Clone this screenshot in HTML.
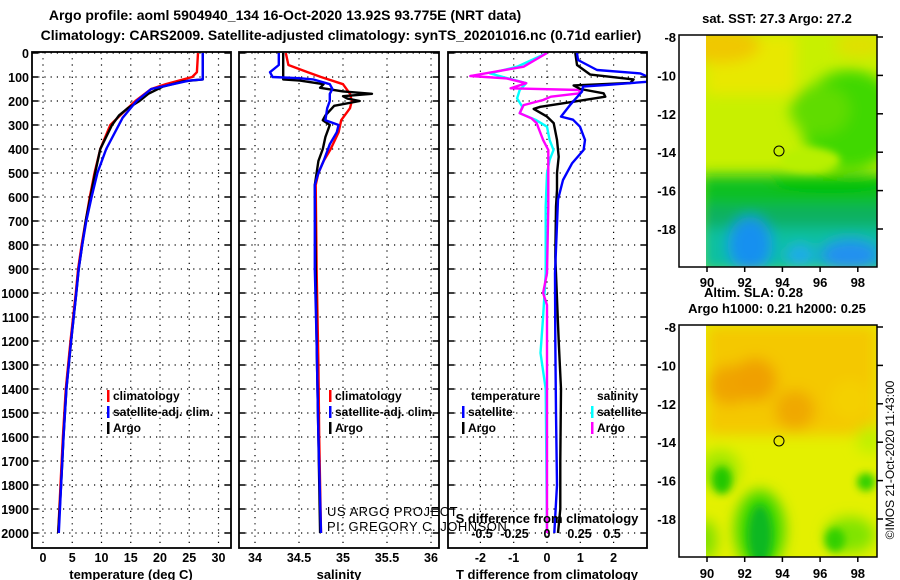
<!DOCTYPE html>
<html><head><meta charset="utf-8">
<style>
html,body{margin:0;padding:0;background:#fff;}
svg{display:block;font-family:"Liberation Sans",sans-serif;}
.b{font-weight:bold;}
</style></head>
<body>
<svg id="fig" width="900" height="580" viewBox="0 0 900 580">
<defs>
<clipPath id="c1"><rect x="32" y="52" width="199" height="496"/></clipPath>
<clipPath id="c2"><rect x="239" y="52" width="200" height="496"/></clipPath>
<clipPath id="c3"><rect x="448" y="52" width="199" height="496"/></clipPath>
<clipPath id="cm1"><rect x="706" y="35" width="171" height="232"/></clipPath>
<clipPath id="cm2"><rect x="706" y="325" width="171" height="232"/></clipPath>
<filter id="bl" x="-50%" y="-50%" width="200%" height="200%"><feGaussianBlur stdDeviation="7"/></filter>
<filter id="bl2" x="-50%" y="-50%" width="200%" height="200%"><feGaussianBlur stdDeviation="4"/></filter>
</defs>
<text class="b" x="285" y="20" font-size="14" text-anchor="middle">Argo profile: aoml 5904940_134 16-Oct-2020 13.92S 93.775E (NRT data)</text>
<text class="b" x="341" y="40" font-size="14" text-anchor="middle">Climatology: CARS2009. Satellite-adjusted climatology: synTS_20201016.nc (0.71d earlier)</text>
<g id="grid"></g>
<g id="lines"></g>
<g id="frames"></g>
<g id="labels"></g>

<!-- top map -->
<text class="b" x="777" y="23" font-size="13" text-anchor="middle">sat. SST: 27.3 Argo: 27.2</text>
<g clip-path="url(#cm1)">
<rect x="706" y="35" width="171" height="232" fill="#c8f000"/>
<g filter="url(#bl)">
<rect x="706" y="35" width="90" height="60" fill="#e8e800"/>
<ellipse cx="720" cy="45" rx="40" ry="18" fill="#f0c800"/>
<ellipse cx="860" cy="45" rx="25" ry="12" fill="#e0e000"/>
<ellipse cx="850" cy="120" rx="50" ry="50" fill="#40d800"/>
<ellipse cx="820" cy="110" rx="30" ry="25" fill="#60dc00"/>
<rect x="700" y="175" width="190" height="40" fill="#10c020"/>
<ellipse cx="830" cy="185" rx="60" ry="8" fill="#00c000"/>
<rect x="700" y="205" width="190" height="30" fill="#10b060"/>
<rect x="700" y="228" width="190" height="45" fill="#10c0a0"/>
<ellipse cx="750" cy="245" rx="22" ry="28" fill="#1890f0"/>
<ellipse cx="850" cy="255" rx="30" ry="16" fill="#2090f0"/>
<ellipse cx="800" cy="255" rx="14" ry="10" fill="#20a8f0"/>
</g>
<ellipse cx="810" cy="160" rx="30" ry="12" fill="#b8f000" filter="url(#bl2)"/>
</g>
<rect x="679" y="35" width="198" height="232" fill="none" stroke="#000" stroke-width="1.5"/>
<circle cx="779" cy="151" r="5" fill="none" stroke="#000"/>
<g id="map1ticks"></g>
<text class="b" x="704" y="297" font-size="13">Altim. SLA: 0.28</text>
<text class="b" x="777" y="313" font-size="13" text-anchor="middle">Argo h1000: 0.21 h2000: 0.25</text>

<!-- bottom map -->
<g clip-path="url(#cm2)">
<rect x="706" y="325" width="171" height="232" fill="#e4f000"/>
<g filter="url(#bl)">
<rect x="706" y="325" width="171" height="110" fill="#f4c800"/>
<ellipse cx="730" cy="385" rx="22" ry="20" fill="#f0a400"/>
<ellipse cx="755" cy="380" rx="22" ry="22" fill="#f0a000"/>
<ellipse cx="795" cy="410" rx="20" ry="20" fill="#f0a800"/>
<ellipse cx="850" cy="400" rx="20" ry="20" fill="#f4d000"/>
<ellipse cx="870" cy="440" rx="14" ry="14" fill="#c0f000"/>
<ellipse cx="720" cy="470" rx="20" ry="20" fill="#a0e800"/>
<ellipse cx="760" cy="530" rx="25" ry="40" fill="#40d800"/>
<ellipse cx="850" cy="535" rx="25" ry="18" fill="#80e400"/>
<ellipse cx="705" cy="540" rx="12" ry="20" fill="#80e000"/>
</g>
<g filter="url(#bl2)">
<ellipse cx="722" cy="480" rx="10" ry="14" fill="#20c800"/>
<ellipse cx="760" cy="535" rx="12" ry="30" fill="#10b820"/>
<ellipse cx="866" cy="482" rx="9" ry="9" fill="#30d000"/>
<ellipse cx="835" cy="540" rx="10" ry="12" fill="#30d000"/>
</g>
</g>
<rect x="679" y="325" width="198" height="232" fill="none" stroke="#000" stroke-width="1.5"/>
<circle cx="779" cy="441" r="5" fill="none" stroke="#000"/>
<g id="map2ticks"></g>
<text x="894" y="460" font-size="12" text-anchor="middle" transform="rotate(-90 894 460)">©IMOS 21-Oct-2020 11:43:00</text>

<text x="327" y="516" font-size="13" letter-spacing="0.5">US ARGO PROJECT</text>
<text x="327" y="531" font-size="13" letter-spacing="0.5">PI: GREGORY C. JOHNSON</text>
</svg>
<script>
// ---- data ----
const depthTicks=[0,100,200,300,400,500,600,700,800,900,1000,1100,1200,1300,1400,1500,1600,1700,1800,1900,2000];
const tempTicks=[0,5,10,15,20,25,30];
const salTicks=[34,34.5,35,35.5,36];
const dTTicks=[-2,-1,0,1,2];
const dSTicks=[-0.5,-0.25,0,0.25,0.5];

const climTDepth=[0,80,100,130,150,200,250,300,400,500,600,700,800,900,1000,1200,1400,1600,1800,2000];
const climT=[26.5,26.3,25.5,21,18.5,15.8,13.6,11.5,9.8,8.8,8.0,7.3,6.6,6.0,5.6,4.7,3.9,3.4,3.0,2.6];
const argoTDepth=[0,110,118,140,170,200,230,260,300,400,500,600,700,800,900,1000,1200,1400,1600,1800,2000];
const argoT=[27.3,27.3,24,20.5,18.0,16.5,14.5,13.0,11.8,9.8,8.9,8.1,7.3,6.7,6.1,5.7,4.8,4.0,3.5,3.1,2.6];
const satTDepth=[0,110,115,150,200,270,400,500,600,700,800,900,1000,1200,1400,1600,1800,2000];
const satT=[27.3,27.3,25,18.5,16.0,13.6,10.8,9.3,8.3,7.4,6.7,6.1,5.7,4.8,4.0,3.5,3.1,2.7];

const climSDepth=[0,50,80,100,130,170,200,230,280,330,400,450,500,550,900,1300,1600,2000];
const climS=[34.35,34.38,34.6,34.75,35.0,35.08,35.1,35.08,34.98,34.95,34.86,34.78,34.72,34.69,34.7,34.72,34.73,34.75];
const argoSDepth=[0,110,115,130,145,160,170,180,190,200,220,260,280,300,350,400,450,500,550,900,1200,1600,2000];
const argoS=[34.32,34.32,34.51,34.78,34.74,35.0,35.33,35.0,35.05,35.19,34.9,34.8,34.77,34.85,34.8,34.77,34.72,34.7,34.68,34.69,34.7,34.72,34.74];
const satSDepth=[0,50,80,100,105,110,130,150,170,200,230,280,300,330,380,450,500,550,900,1200,1600,2000];
const satS=[34.27,34.27,34.17,34.2,34.5,34.66,34.85,34.88,34.85,34.85,34.82,34.8,34.95,34.93,34.85,34.78,34.72,34.68,34.68,34.7,34.72,34.75];

const dTSatDepth=[0,29,71,85,99,120,133,140,161,203,217,265,278,307,362,404,460,529,611,918,1200,1500,1800,2000];
const dTSat=[0.9,0.93,1.5,2.8,3.03,3.0,1.8,1.08,1.05,0.78,0.69,0.42,0.78,0.99,1.14,1.1,0.75,0.48,0.33,0.24,0.25,0.27,0.3,0.22];
const dTArgoDepth=[0,50,90,110,125,135,150,168,182,203,224,233,265,292,362,432,500,570,640,849,1200,1400,1700,1900,2000];
const dTArgo=[0.85,0.9,1.3,2.6,2.5,0.8,1.0,1.7,1.75,0.8,-0.2,-0.4,0.0,0.2,0.3,0.35,0.3,0.3,0.27,0.25,0.35,0.42,0.4,0.4,0.33];
const dSSatDepth=[0,57,85,126,154,189,224,251,278,307,362,404,446,501,640,918,1100,1250,1400,2000];
const dSSat=[0,-0.23,-0.44,-0.16,-0.21,-0.23,-0.19,-0.21,-0.09,0,0.02,0.05,0.02,0,-0.01,-0.01,-0.03,-0.05,-0.01,0.0];
const dSArgoDepth=[0,57,96,106,126,147,154,168,182,196,217,251,272,292,362,404,640,918,1000,1050,2000];
const dSArgo=[0,-0.18,-0.59,-0.31,-0.16,-0.28,0.25,0.25,0.03,-0.03,-0.18,-0.21,-0.12,-0.08,-0.03,0.01,0.01,0,-0.03,0,0];

const lonTicks=[90,92,94,96,98];
const latTicks=[-8,-10,-12,-14,-16,-18];

// ---- scales ----
const yD=d=>53+d*0.24;
const xT=t=>43+t*5.85;
const xS=s=>343+(s-35)*88;
const xDT=t=>547+t*33.3;
const xDS=s=>547+s*130;
const xLon=l=>707+(l-90)*18.85;
const yLat1=l=>37+(-8-l)*19.2;
const yLat2=l=>327+(-8-l)*19.2;

const NS="http://www.w3.org/2000/svg";
function mk(tag,attrs,parent,txt){const e=document.createElementNS(NS,tag);for(const k in attrs)e.setAttribute(k,attrs[k]);if(txt!==undefined)e.textContent=txt;parent.appendChild(e);return e;}
const G=document.getElementById('grid'),L=document.getElementById('lines'),F=document.getElementById('frames'),LB=document.getElementById('labels');

const panels=[{x0:32,x1:231,ticks:tempTicks,sc:xT,clip:'c1',name:'temperature'},{x0:239,x1:439,ticks:salTicks,sc:xS,clip:'c2',name:'salinity'},{x0:448,x1:647,ticks:dTTicks,sc:xDT,clip:'c3',name:'difference'}];
panels.forEach(p=>{
  depthTicks.forEach(d=>{const y=yD(d);
    const gl=mk('line',{x1:p.x0,x2:p.x1,y1:y,y2:y,stroke:'#000','stroke-width':1.2,'stroke-dasharray':'1.2 5'},G);
    
    
    mk('line',{x1:p.x0,x2:p.x0+6,y1:y,y2:y,stroke:'#000','stroke-width':1.5},F);
    mk('line',{x1:p.x1-6,x2:p.x1,y1:y,y2:y,stroke:'#000','stroke-width':1.5},F);
  });
  p.ticks.forEach(t=>{const x=p.sc(t);
    const gl=mk('line',{x1:x,x2:x,y1:52,y2:548,stroke:'#000','stroke-width':1.2,'stroke-dasharray':'1.2 5'},G);
    
    
  });
  const fr=mk('rect',{x:p.x0,y:52,width:p.x1-p.x0,height:496,fill:'none',stroke:'#000','stroke-width':1.8},F);
  
  
});
depthTicks.forEach(d=>{
  const t=mk('text',{x:29,y:yD(d)+5,'font-size':12.5,'text-anchor':'end','class':'b'},LB,String(d));
  
  
});
function xt(arr,sc,y,name,fmt){arr.forEach(v=>{const t=mk('text',{x:sc(v),y:y,'font-size':12.5,'text-anchor':'middle','class':'b'},LB,fmt?fmt(v):String(v));
  
  });}
xt(tempTicks,xT,562,'temperature-tick-label');
xt(salTicks,xS,562,'salinity-tick-label');
xt(dTTicks,xDT,562,'t-diff-tick-label');
xt(dSTicks,xDS,538,'s-diff-tick-label');
function title(x,y,s,n){const t=mk('text',{x:x,y:y,'font-size':13,'text-anchor':'middle','class':'b'},LB,s);
  
  }
title(131,579,'temperature (deg C)','temperature-axis-title');
title(339,579,'salinity','salinity-axis-title');
title(547,579,'T difference from climatology','t-diff-axis-title');
title(547,523,'S difference from climatology','s-diff-axis-title');

function series(dep,val,sc,col,clip,name){
  const g=mk('g',{'clip-path':'url(#'+clip+')'},L);
  const pts=dep.map((d,i)=>sc(val[i]).toFixed(1)+','+yD(d).toFixed(1)).join(' ');
  const pl=mk('polyline',{points:pts,fill:'none',stroke:col,'stroke-width':2.4,'stroke-linejoin':'round'},g);
  
  
}
series(climTDepth,climT,xT,'#f00','c1','temp-climatology-line');
series(argoTDepth,argoT,xT,'#000','c1','temp-argo-line');
series(satTDepth,satT,xT,'#00f','c1','temp-satellite-line');
series(climSDepth,climS,xS,'#f00','c2','sal-climatology-line');
series(argoSDepth,argoS,xS,'#000','c2','sal-argo-line');
series(satSDepth,satS,xS,'#00f','c2','sal-satellite-line');
series(dSSatDepth,dSSat,xDS,'#0ff','c3','s-diff-satellite-line');
series(dSArgoDepth,dSArgo,xDS,'#f0f','c3','s-diff-argo-line');
series(dTArgoDepth,dTArgo,xDT,'#000','c3','t-diff-argo-line');
series(dTSatDepth,dTSat,xDT,'#00f','c3','t-diff-satellite-line');

function leg(x,y,col,txt,n){
  if(col){const r=mk('rect',{x:x,y:y-10,width:2.5,height:12,fill:col},LB);
    
    }
  const t=mk('text',{x:x+6,y:y,'font-size':12,'class':'b'},LB,txt);
  
  
}
leg(107,400,'#f00','climatology','legend-temp-climatology');
leg(107,416,'#00f','satellite-adj. clim.','legend-temp-satellite');
leg(107,432,'#000','Argo','legend-temp-argo');
leg(329,400,'#f00','climatology','legend-sal-climatology');
leg(329,416,'#00f','satellite-adj. clim.','legend-sal-satellite');
leg(329,432,'#000','Argo','legend-sal-argo');
leg(465,400,null,'temperature','legend-diff-temperature-header');
leg(462,416,'#00f','satellite','legend-t-diff-satellite');
leg(462,432,'#000','Argo','legend-t-diff-argo');
leg(591,400,null,'salinity','legend-diff-salinity-header');
leg(591,416,'#0ff','satellite','legend-s-diff-satellite');
leg(591,432,'#f0f','Argo','legend-s-diff-argo');

function mapAxes(gid,yl,yb,ylab){
  const g=document.getElementById(gid);
  latTicks.forEach(l=>{const y=yl(l);
    mk('line',{x1:877,x2:883,y1:y,y2:y,stroke:'#000','stroke-width':1.5},g);
    const t=mk('text',{x:676,y:y+5,'font-size':13,'text-anchor':'end','class':'b'},g,String(l));
    
    });
  lonTicks.forEach(l=>{const x=xLon(l);
    mk('line',{x1:x,x2:x,y1:yb,y2:yb+5,stroke:'#000','stroke-width':1.5},g);
    const t=mk('text',{x:x,y:ylab,'font-size':13,'text-anchor':'middle','class':'b'},g,String(l));
    
    });
}
mapAxes('map1ticks',yLat1,267,287);
mapAxes('map2ticks',yLat2,557,578);
</script>
</body></html>
